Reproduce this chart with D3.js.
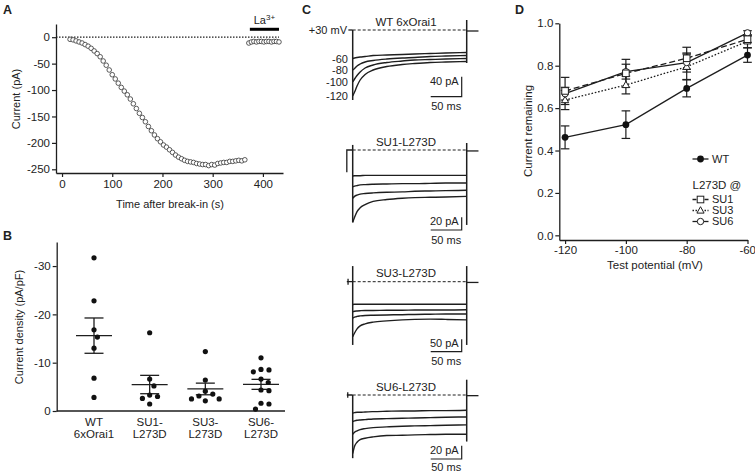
<!DOCTYPE html>
<html><head><meta charset="utf-8">
<script src="https://cdn.jsdelivr.net/npm/d3@7"></script>
<style>
body{margin:0;background:#fff}
svg text{font-family:"Liberation Sans",Arial,Helvetica,sans-serif;fill:#222}
</style>
</head><body>
<svg id="c" width="755" height="472"></svg>
<script>
// ---------------- DATA ----------------
// Panel A: current vs time after break-in
const timeA = [16,22,28,34,40,46,52,58,64,70,76,82,88,94,100,106,112,118,124,130,136,142,148,154,160,166,172,178,184,190,196,202,208,214,220,226,232,238,244,250,256,262,268,274,280,286,292,298,304,310,316,322,328,334,340,346,352,358,364];
const currentA = [-4,-5,-7,-9,-11,-14,-17,-21,-26,-31,-37,-45,-53,-62,-71,-79,-87,-95,-102,-109,-117,-126,-135,-144,-152,-160,-169,-177,-185,-192,-198,-204,-208,-213,-218,-223,-227,-230,-233,-235,-236,-237,-239,-240,-241,-241,-243,-241,-242,-239,-238,-237,-237,-235,-235,-234,-233,-234,-232];
const timeLa = [372,377,382,387,392,397,402,407,412,417,422,427,432];
const currentLa = [-11,-9,-8,-9,-8,-8,-9,-8,-8,-9,-8,-8,-9];
const ticksAx = [0,100,200,300,400];
const ticksAy = [0,-50,-100,-150,-200,-250];

// Panel B: current density (pA/pF)
const groupsB = ["WT","SU1","SU3","SU6"];
const labelsB1 = ["WT","SU1-","SU3-","SU6-"];
const labelsB2 = ["6xOrai1","L273D","L273D","L273D"];
const densWT  = [-31.7,-22.8,-16.8,-15.3,-13.0,-6.8,-2.8];
const densSU1 = [-16.2,-6.6,-5.2,-3.3,-3.0,-2.6,-1.45];
const densSU3 = [-12.3,-6.4,-4.1,-3.5,-3.1,-2.5,-2.5,-2.1];
const densSU6 = [-11.0,-8.6,-8.5,-8.1,-6.6,-5.9,-4.35,-4.2,-1.6,-1.45,-0.4];
const ticksBy = [0,-10,-20,-30];

// Panel C: current traces (pA) sampled at traceTimes (ms)
const traceTimes = [0,3,7,12,20,33,55,80,100,125,150,184];
const stepLabels = ["-60","-80","-100","-120"];
const wtCurrents = [
  [-57,-56,-55,-54,-53,-51,-50,-49,-48,-47,-46,-45],
  [-80,-77,-72,-68,-64,-61,-58,-56,-55,-53,-52,-51],
  [-104,-98,-91,-84,-76,-70,-65,-62,-60,-59,-58,-57],
  [-132,-124,-112,-100,-89,-80,-73,-69,-67,-65,-64,-63]
];
const su1Currents = [
  [-41,-40.5,-40.5,-40.5,-40,-40,-40,-40,-40,-40,-40,-40],
  [-58,-57,-56,-55,-54.5,-54,-53.5,-53,-53,-52.5,-52,-52],
  [-76,-73,-71,-69.5,-68.5,-67.5,-66.5,-66,-65,-64.5,-64,-63.5],
  [-114,-106,-97,-91,-86,-81,-78,-76,-75,-74.5,-74,-73]
];
const su3Currents = [
  [-92,-91,-91,-91,-91,-91,-91,-91,-91,-91,-91,-91],
  [-121,-119,-118,-117,-116,-116,-115,-115,-114,-114,-114,-113],
  [-147,-143,-140,-138,-136,-135,-134,-133,-132,-131,-130,-130],
  [-222,-207,-190,-178,-170,-163,-158,-154,-152,-151,-152,-154]
];
const su6Currents = [
  [-27,-26.5,-26,-26,-25.5,-25,-24.5,-24,-24,-23.5,-23.5,-23],
  [-40,-39,-38,-37.5,-37,-36,-35.5,-35,-34.5,-34,-33.5,-33],
  [-59,-56,-54,-52,-50.5,-49,-48,-47,-46.5,-46,-45.5,-45],
  [-88,-77,-71,-67,-65,-63,-61,-60.5,-60,-59.5,-59,-59]
];
// capacitive transients [top, bottom] at pulse on / off (pA)
const wtTransients  = [[0,-140],[20,-66]];
const su1Transients = [[8,-114],[11,-118]];
const su3Transients = [[63,-255],[63,-255]];
const su6Transients = [[0,-95],[23,-70]];

// Panel D: current remaining
const potentials = [-120,-100,-80,-60];
const wtMean  = [0.462,0.522,0.693,0.850];
const wtSem   = [0.054,0.065,0.040,0.034];
const su1Mean = [0.681,0.764,0.835,0.925];
const su1Sem  = [0.064,0.066,0.052,0.015];
const su3Mean = [0.638,0.709,0.795,0.915];
const su3Sem  = [0.045,0.042,0.060,0.030];
const su6Mean = [0.668,0.772,0.815,0.955];
const su6Sem  = [0.030,0.035,0.045,0.010];
const ticksDy = [0,0.2,0.4,0.6,0.8,1.0];

// ---------------- DRAW ----------------
const svg = d3.select("#c");
const INK = "#1e1e1e";
const plain = d => String(d);
function letter(t,x,y){svg.append("text").attr("x",x).attr("y",y).attr("font-size",12.5).attr("font-weight","bold").text(t);}
function styleAxis(g){
  g.selectAll("path.domain").attr("stroke",INK).attr("stroke-width",1.3);
  g.selectAll(".tick line").attr("stroke",INK).attr("stroke-width",1.2);
  g.selectAll(".tick text").attr("font-size",11.5).attr("fill","#222").style("font-family",'"Liberation Sans",Arial,sans-serif');
}

// ===== Panel A =====
letter("A",3,14);
const xA = d3.scaleLinear().domain([-12,440]).range([56,283]);
const yA = d3.scaleLinear().domain([-257,25]).range([173,24]);
svg.append("g").attr("transform","translate(56,0)")
  .call(d3.axisLeft(yA).tickValues(ticksAy).tickFormat(plain).tickSize(4).tickSizeOuter(0).tickPadding(2)).call(styleAxis);
svg.append("g").attr("transform","translate(0,173)")
  .call(d3.axisBottom(xA).tickValues(ticksAx).tickFormat(plain).tickSize(4).tickSizeOuter(0).tickPadding(3)).call(styleAxis);
svg.append("line").attr("x1",xA(-12)).attr("x2",xA(432)).attr("y1",yA(0)).attr("y2",yA(0))
  .attr("stroke",INK).attr("stroke-width",1.2).attr("stroke-dasharray","1.5,1.5");
svg.append("line").attr("x1",xA(374)).attr("x2",xA(432)).attr("y1",yA(15)).attr("y2",yA(15))
  .attr("stroke","#000").attr("stroke-width",3);
svg.append("text").attr("x",xA(403)).attr("y",yA(15)-5).attr("text-anchor","middle").attr("font-size",11)
  .html('La<tspan dy="-4" font-size="8">3+</tspan>');
const ptsA = timeA.map((t,i)=>[t,currentA[i]]).concat(timeLa.map((t,i)=>[t,currentLa[i]]));
svg.append("g").selectAll("circle").data(ptsA).join("circle")
  .attr("cx",d=>xA(d[0])).attr("cy",d=>yA(d[1])).attr("r",2.3)
  .attr("fill","#fff").attr("stroke","#333").attr("stroke-width",0.8);
svg.append("text").attr("transform","translate(16,99) rotate(-90)").attr("text-anchor","middle")
  .attr("dominant-baseline","central").attr("font-size",11).text("Current (pA)");
svg.append("text").attr("x",170).attr("y",208).attr("text-anchor","middle").attr("font-size",11).text("Time after break-in (s)");

// ===== Panel B =====
letter("B",3,240);
const yB = d3.scaleLinear().domain([0,-35]).range([411,241.9]);
const xB = d3.scalePoint().domain(groupsB).range([94,261]);
svg.append("g").attr("transform","translate(56.7,0)")
  .call(d3.axisLeft(yB).tickValues(ticksBy).tickFormat(plain).tickSize(4).tickSizeOuter(0).tickPadding(2)).call(styleAxis);
svg.append("line").attr("x1",56.7).attr("x2",285).attr("y1",411).attr("y2",411).attr("stroke",INK).attr("stroke-width",1.3);
groupsB.forEach((g,i)=>{
  svg.append("text").attr("x",xB(g)).attr("y",425.5).attr("text-anchor","middle").attr("font-size",11.5).text(labelsB1[i]);
  svg.append("text").attr("x",xB(g)).attr("y",437.5).attr("text-anchor","middle").attr("font-size",11.5).text(labelsB2[i]);
});
svg.append("text").attr("transform","translate(19,327) rotate(-90)").attr("text-anchor","middle")
  .attr("dominant-baseline","central").attr("font-size",11).text("Current density (pA/pF)");
function swarm(vals,D){
  const sorted = vals.slice().sort((a,b)=>a-b);
  const placed=[];
  sorted.forEach(v=>{
    const y=yB(v); const forb=[];
    placed.forEach(p=>{const dy=Math.abs(p.y-y); if(dy<D){const w=Math.sqrt(D*D-dy*dy); forb.push([p.dx-w,p.dx+w]);}});
    const cands=[0]; forb.forEach(f=>{cands.push(f[0],f[1]);});
    cands.sort((a,b)=>Math.abs(a)-Math.abs(b)||b-a);
    let dx=0;
    for(const c of cands){ if(!forb.some(f=>c>f[0]+1e-6&&c<f[1]-1e-6)){dx=c;break;} }
    placed.push({v,y,dx});
  });
  return placed;
}
const densB = [densWT,densSU1,densSU3,densSU6];
groupsB.forEach((g,i)=>{
  const vals=densB[i]; const cx=xB(g);
  const m=d3.mean(vals), se=d3.deviation(vals)/Math.sqrt(vals.length);
  const gg=svg.append("g").attr("stroke",INK).attr("stroke-width",1.3);
  gg.append("line").attr("x1",cx-18).attr("x2",cx+18).attr("y1",yB(m)).attr("y2",yB(m));
  gg.append("line").attr("x1",cx).attr("x2",cx).attr("y1",yB(m-se)).attr("y2",yB(m+se));
  gg.append("line").attr("x1",cx-9.5).attr("x2",cx+9.5).attr("y1",yB(m-se)).attr("y2",yB(m-se));
  gg.append("line").attr("x1",cx-9.5).attr("x2",cx+9.5).attr("y1",yB(m+se)).attr("y2",yB(m+se));
  svg.append("g").selectAll("circle").data(swarm(vals,8)).join("circle")
    .attr("cx",d=>cx+d.dx).attr("cy",d=>d.y).attr("r",2.6).attr("fill","#111");
});

// ===== Panel C =====
letter("C",302,14);
const xC = d3.scaleLinear().domain([0,184]).range([352.7,466.7]);
const cPanels = [
  {title:"WT 6xOrai1", zeroY:30, barPA:40, barPx:20, barBottom:96.7, cur:wtCurrents, tr:wtTransients, pre:[[-7,0],[0,0]], post:-2, labels:true},
  {title:"SU1-L273D", zeroY:150, barPA:20, barPx:12.7, barBottom:230, cur:su1Currents, tr:su1Transients, pre:[[-9.5,-35],[-9.5,0],[0,0]], post:-1.5},
  {title:"SU3-L273D", zeroY:281.7, barPA:50, barPx:12.4, barBottom:351.7, cur:su3Currents, tr:su3Transients, pre:[[-9.5,0],[-7.5,0],[-7.5,12],[-7.5,-12],[-7.5,0],[0,0]], post:-3},
  {title:"SU6-L273D", zeroY:395, barPA:20, barPx:13.3, barBottom:459, cur:su6Currents, tr:su6Transients, pre:[[-9.5,0],[-8,0],[-8,4],[-8,-4],[-8,0],[0,0]], post:-1}
];
cPanels.forEach(p=>{
  const y = d3.scaleLinear().domain([0,-p.barPA]).range([p.zeroY,p.zeroY+p.barPx]);
  const g = svg.append("g");
  g.append("text").attr("x",406).attr("y",p.zeroY-4.5).attr("text-anchor","middle").attr("font-size",11.5).text(p.title);
  g.append("line").attr("x1",xC(0)).attr("x2",xC(184)).attr("y1",y(0)).attr("y2",y(0))
    .attr("stroke",INK).attr("stroke-width",1).attr("stroke-dasharray","3,2");
  const ln = d3.line().x(d=>xC(d[0])).y(d=>y(d[1]));
  g.append("path").attr("d",ln(p.pre)).attr("fill","none").attr("stroke",INK).attr("stroke-width",1.3);
  g.append("path").attr("d",ln([[184,p.post],[203,p.post]])).attr("fill","none").attr("stroke",INK).attr("stroke-width",1.3);
  g.append("path").attr("d",ln([[0,p.tr[0][0]],[0,p.tr[0][1]]])).attr("stroke",INK).attr("stroke-width",1.5);
  g.append("path").attr("d",ln([[184,p.tr[1][0]],[184,p.tr[1][1]]])).attr("stroke",INK).attr("stroke-width",1.5);
  const lc = d3.line().curve(d3.curveMonotoneX).x(d=>xC(d[0])).y(d=>y(d[1]));
  p.cur.forEach((arr,k)=>{
    g.append("path").attr("d",lc(traceTimes.map((t,i)=>[t,arr[i]]))).attr("fill","none")
      .attr("stroke",INK).attr("stroke-width",1.4);
    if(p.labels){
      g.append("text").attr("x",348).attr("y",y(arr[0])+4).attr("text-anchor","end").attr("font-size",11).text(stepLabels[k]);
    }
  });
  if(p.labels){
    g.append("text").attr("x",347).attr("y",y(0)+4).attr("text-anchor","end").attr("font-size",11).text("+30 mV");
  }
  // scale bars
  const bx = 461.7, bw = xC(50)-xC(0);
  g.append("path").attr("d",`M${bx-bw},${p.barBottom}H${bx}V${p.barBottom-p.barPx}`).attr("fill","none")
    .attr("stroke",INK).attr("stroke-width",1.2);
  g.append("text").attr("x",bx-3).attr("y",p.barBottom-p.barPx+8).attr("text-anchor","end").attr("font-size",11).text(p.barPA+" pA");
  g.append("text").attr("x",bx-bw/2).attr("y",Math.min(p.barBottom+13.5,471)).attr("text-anchor","middle").attr("font-size",11).text("50 ms");
});

// ===== Panel D =====
letter("D",515,14);
const xD = d3.scaleLinear().domain([-121.9,-60]).range([559.3,747.5]);
const yD = d3.scaleLinear().domain([-0.022,1.0]).range([240,23.3]);
svg.append("g").attr("transform","translate(559.3,0)")
  .call(d3.axisLeft(yD).tickValues(ticksDy).tickFormat(d=>d.toFixed(1)).tickSize(4).tickSizeOuter(0).tickPadding(2)).call(styleAxis);
const gxD = svg.append("g").attr("transform","translate(0,240)")
  .call(d3.axisBottom(xD).tickValues(potentials).tickFormat(plain).tickSize(4).tickSizeOuter(0).tickPadding(2)).call(styleAxis);
gxD.selectAll(".tick text").filter(d=>d===-60).attr("text-anchor","end").attr("dx",8);
svg.append("text").attr("transform","translate(528,131) rotate(-90)").attr("text-anchor","middle")
  .attr("dominant-baseline","central").attr("font-size",11.5).text("Current remaining");
svg.append("text").attr("x",655).attr("y",269).attr("text-anchor","middle").attr("font-size",11.5).text("Test potential (mV)");

const seriesD = [
  {mean:su3Mean, sem:su3Sem, dash:"1.6,1.8", marker:"tri"},
  {mean:su6Mean, sem:su6Sem, dash:null, marker:"openc"},
  {mean:su1Mean, sem:su1Sem, dash:"6,3", marker:"sq"},
  {mean:wtMean, sem:wtSem, dash:null, marker:"fillc"}
];
function marker(g,type,x,y){
  if(type==="fillc") g.append("circle").attr("cx",x).attr("cy",y).attr("r",3.4).attr("fill","#111");
  if(type==="openc") g.append("circle").attr("cx",x).attr("cy",y).attr("r",3.2).attr("fill","#fff").attr("stroke",INK).attr("stroke-width",1);
  if(type==="sq") g.append("rect").attr("x",x-3.3).attr("y",y-3.3).attr("width",6.6).attr("height",6.6).attr("fill","#fff").attr("stroke",INK).attr("stroke-width",1);
  if(type==="tri") g.append("path").attr("d",`M${x},${y-3.8}L${x+3.6},${y+2.6}L${x-3.6},${y+2.6}Z`).attr("fill","#fff").attr("stroke",INK).attr("stroke-width",1);
}
const lnD = d3.line().x((d,i)=>xD(potentials[i])).y(d=>yD(d));
seriesD.forEach(s=>{
  svg.append("path").attr("d",lnD(s.mean)).attr("fill","none").attr("stroke",INK).attr("stroke-width",1.3)
    .attr("stroke-dasharray",s.dash);
});
seriesD.forEach(s=>{
  const g=svg.append("g").attr("stroke",INK).attr("stroke-width",1.2);
  s.mean.forEach((m,i)=>{
    const x=xD(potentials[i]);
    g.append("line").attr("x1",x).attr("x2",x).attr("y1",yD(m-s.sem[i])).attr("y2",yD(m+s.sem[i]));
    [m-s.sem[i],m+s.sem[i]].forEach(v=>g.append("line").attr("x1",x-4.3).attr("x2",x+4.3).attr("y1",yD(v)).attr("y2",yD(v)));
  });
});
seriesD.forEach(s=>{
  const g=svg.append("g");
  s.mean.forEach((m,i)=>marker(g,s.marker,xD(potentials[i]),yD(m)));
});
// legend
const legend = [
  {label:"WT", y:159, dash:null, marker:"fillc"},
  {label:"SU1", y:199.5, dash:"4,2", marker:"sq"},
  {label:"SU3", y:210.5, dash:"1.5,1.5", marker:"tri"},
  {label:"SU6", y:221.5, dash:null, marker:"openc"}
];
legend.forEach(l=>{
  const g=svg.append("g");
  g.append("line").attr("x1",692.5).attr("x2",708.5).attr("y1",l.y).attr("y2",l.y).attr("stroke",INK)
    .attr("stroke-width",1.3).attr("stroke-dasharray",l.dash);
  marker(g,l.marker,700.5,l.y);
  g.append("text").attr("x",712).attr("y",l.y+3.8).attr("font-size",11).text(l.label);
});
svg.append("text").attr("x",692.5).attr("y",189).attr("font-size",11.5).text("L273D @");
</script>
</body></html>
